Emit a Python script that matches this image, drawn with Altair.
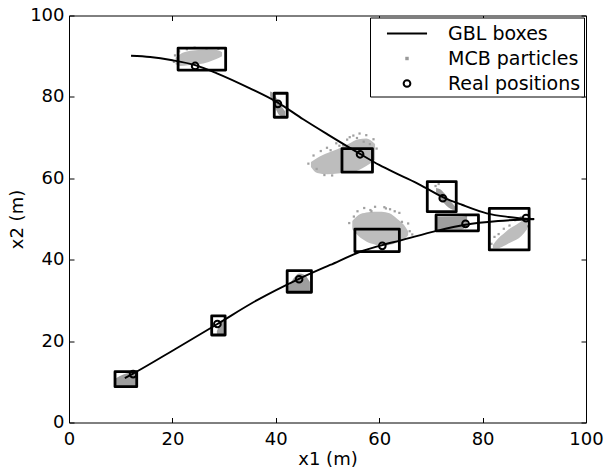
import altair as alt
import pandas as pd

FONT = "DejaVu Sans"

# ---- trajectories (x1, x2) ----
upper_x = [12.0, 15.7, 20.0, 24.4, 28.6, 35.0, 40.4, 45.3, 50.0, 56.3, 60.0, 64.0, 67.9, 72.3, 76.0, 80.8, 85.0, 89.9]
upper_y = [90.1, 89.8, 89.0, 87.8, 85.8, 82.1, 78.6, 74.5, 70.8, 66.0, 63.3, 60.8, 58.4, 55.4, 53.5, 51.4, 50.5, 49.9]
lower_x = [10.8, 12.4, 20.5, 28.7, 36.3, 44.5, 50.5, 56.9, 60.6, 64.0, 71.1, 76.7, 83.0, 90.0]
lower_y = [10.9, 12.0, 18.0, 24.2, 30.0, 35.3, 38.7, 42.2, 43.6, 44.7, 47.1, 48.6, 49.5, 50.0]

# ---- real positions ----
real_x = [24.4, 40.4, 56.3, 72.3, 88.4, 12.4, 28.7, 44.5, 60.6, 76.7]
real_y = [87.6, 78.3, 65.9, 55.1, 50.2, 11.9, 24.2, 35.2, 43.4, 48.8]

# ---- GBL boxes ----
box_x1 = [21.1, 39.7, 52.8, 69.3, 71.0, 81.3, 55.3, 8.9, 27.6, 42.2]
box_x2 = [30.3, 42.2, 58.7, 74.9, 79.2, 89.0, 63.9, 13.1, 30.2, 46.9]
box_y1 = [86.6, 75.0, 61.5, 51.8, 47.1, 42.4, 42.0, 8.8, 21.5, 32.0]
box_y2 = [92.0, 80.9, 67.3, 59.2, 51.0, 52.6, 47.5, 12.5, 26.2, 37.3]

# ---- MCB particle clouds: (x1, x2 low, x2 high) ----
cloud1 = [(20.6, 88.0, 89.6), (21.5, 87.6, 90.5), (23.0, 87.8, 91.2), (25.0, 88.0, 91.5), (27.0, 88.6, 91.6), (28.5, 89.3, 91.5), (29.6, 90.0, 91.0)]
cloud2 = [(38.9, 80.2, 81.3), (39.5, 78.5, 81.0), (40.0, 77.0, 80.0), (40.6, 75.6, 78.8), (41.2, 75.2, 77.5), (41.8, 75.1, 76.5)]
cloud3 = [(46.8, 62.8, 64.0), (48.0, 61.3, 65.0), (50.0, 61.0, 66.2), (52.0, 61.2, 67.2), (54.0, 61.4, 68.4), (56.0, 62.0, 69.6), (57.5, 63.0, 69.8), (59.2, 64.5, 68.4)]
cloud4 = [(71.0, 56.5, 57.6), (71.8, 55.0, 57.3), (72.6, 53.8, 56.3), (73.4, 52.8, 55.0), (74.2, 52.3, 53.8), (74.8, 52.2, 52.8)]
cloud5 = [(71.1, 47.4, 50.5), (76.0, 47.4, 50.6), (77.0, 48.5, 50.8)]
cloud6 = [(82.0, 42.8, 43.6), (83.0, 42.8, 45.2), (84.0, 43.3, 46.3), (85.0, 44.0, 47.4), (86.0, 44.6, 48.2), (87.0, 45.3, 49.0), (88.0, 46.5, 49.8), (88.6, 47.5, 50.0)]
cloud7 = [(54.8, 47.5, 49.5), (56.0, 45.8, 51.0), (57.5, 44.5, 51.6), (59.0, 43.8, 51.8), (60.5, 43.3, 51.8), (62.0, 43.6, 51.4), (63.5, 44.2, 50.0), (64.8, 45.0, 48.5), (65.6, 46.0, 47.0)]
cloud8 = [(9.0, 8.9, 10.8), (10.5, 8.9, 11.8), (12.0, 8.9, 12.3), (13.0, 8.9, 12.4)]
cloud9 = [(28.6, 21.6, 22.5), (29.2, 21.6, 24.0), (30.0, 21.6, 25.0)]
cloud10 = [(42.5, 32.1, 33.5), (43.5, 32.1, 35.5), (44.5, 32.1, 36.6), (45.5, 32.1, 36.3), (46.6, 32.1, 34.5)]

# scattered particles around and inside the clouds
scatter_x = [46.3, 47.3, 47.9, 48.7, 49.4, 49.9, 50.6, 51.7, 52.3, 53.8, 54.3, 55.7, 56.2, 57.5, 58.9, 59.5, 58.2, 50.9, 53.0, 55.0, 57.0,
             54.2, 55.1, 55.8, 57.1, 58.3, 59.2, 61.3, 62.1, 63.9, 64.4, 65.6, 65.9, 66.4, 61.0, 58.5, 63.0,
             81.7, 82.3, 83.1, 84.1, 85.2, 86.3, 87.4, 88.8, 86.8,
             20.3, 20.5, 21.3, 22.8, 24.3, 26.6, 28.9, 70.9, 71.5]
scatter_y = [63.6, 65.6, 62.3, 66.7, 60.8, 67.5, 66.9, 68.6, 68.0, 69.5, 70.1, 69.9, 71.0, 70.6, 69.6, 67.3, 68.4, 60.7, 68.1, 70.5, 69.0,
             49.0, 50.6, 51.9, 52.7, 52.2, 53.0, 52.6, 52.4, 51.5, 49.3, 48.9, 47.0, 46.2, 52.9, 51.9, 51.9,
             43.9, 45.6, 46.3, 47.6, 48.4, 49.7, 50.4, 48.2, 50.0,
             88.6, 90.2, 91.2, 91.7, 92.1, 91.9, 91.8, 58.1, 58.6]

ticks = [0, 20, 40, 60, 80, 100]
series_names = ["GBL boxes", "MCB particles", "Real positions"]

# ---- build tables ----
tracks = pd.DataFrame(
    [{"track": "upper", "x": a, "y": b} for a, b in zip(upper_x, upper_y)]
    + [{"track": "lower", "x": a, "y": b} for a, b in zip(lower_x, lower_y)]
)
real = pd.DataFrame({"x": real_x, "y": real_y, "series": "Real positions"})
boxes = pd.DataFrame({"x1": box_x1, "x2": box_x2, "y1": box_y1, "y2": box_y2})


def band_table(clouds):
    rows = []
    for name, pts in clouds.items():
        for x, lo, hi in pts:
            rows.append({"cloud": name, "x": x, "lo": lo, "hi": hi})
    return pd.DataFrame(rows)


sparse = band_table({"c1": cloud1, "c3": cloud3, "c6": cloud6, "c7": cloud7})
dense = band_table({"c2": cloud2, "c4": cloud4, "c5": cloud5, "c8": cloud8, "c9": cloud9, "c10": cloud10})
scatter = pd.DataFrame({"x": scatter_x, "y": scatter_y})

xs = alt.Scale(domain=[0, 100], nice=False, zero=False)
ys = alt.Scale(domain=[0, 100], nice=False, zero=False)

x_bottom = alt.Axis(orient="bottom", values=ticks, offset=-5, tickSize=5, domain=False, grid=False,
                    labelPadding=8, labelFlush=False, labelOverlap=False, title="x1 (m)", titlePadding=2)
x_top = alt.Axis(orient="top", values=ticks, offset=-5, tickSize=5, domain=False, grid=False,
                 labels=False, title=None)
y_left = alt.Axis(orient="left", values=ticks, offset=-5, tickSize=5, domain=False, grid=False,
                  labelPadding=5, labelFlush=False, labelOverlap=False, title="x2 (m)", titlePadding=3)
y_right = alt.Axis(orient="right", values=ticks, offset=-5, tickSize=5, domain=False, grid=False,
                   labels=False, title=None)

sparse_layer = alt.Chart(sparse).mark_area(color="#bdbdbd", interpolate="monotone").encode(
    x=alt.X("x:Q", scale=xs, axis=x_top),
    y=alt.Y("lo:Q", scale=ys, axis=y_right),
    y2="hi:Q",
    detail="cloud:N",
)
dense_layer = alt.Chart(dense).mark_area(color="#9e9e9e", interpolate="monotone").encode(
    x=alt.X("x:Q", scale=xs, axis=None),
    y=alt.Y("lo:Q", scale=ys, axis=None),
    y2="hi:Q",
    detail="cloud:N",
)
scatter_layer = alt.Chart(scatter).mark_square(size=5, color="#a0a0a0", opacity=1).encode(
    x=alt.X("x:Q", scale=xs, axis=None),
    y=alt.Y("y:Q", scale=ys, axis=None),
)
box_layer = alt.Chart(boxes).mark_rect(fillOpacity=0, stroke="black", strokeWidth=2.8, strokeJoin="round").encode(
    x=alt.X("x1:Q", scale=xs, axis=None),
    x2="x2:Q",
    y=alt.Y("y1:Q", scale=ys, axis=None),
    y2="y2:Q",
)
track_layer = alt.Chart(tracks).mark_line(color="black", strokeWidth=1.9, interpolate="monotone").encode(
    x=alt.X("x:Q", scale=xs, axis=x_bottom),
    y=alt.Y("y:Q", scale=ys, axis=y_left),
    detail="track:N",
)

line_path = "M-1.67,0L1.67,0"
dot_path = "M-0.06,-0.06L0.06,-0.06L0.06,0.06L-0.06,0.06Z"
circle_path = "M0.28,0A0.28,0.28,0,1,1,-0.28,0A0.28,0.28,0,1,1,0.28,0Z"

legend = alt.Legend(title=None, orient="top-right", offset=2, padding=3, strokeColor="black",
                    fillColor="white", labelFont=FONT, labelFontSize=19, labelColor="black",
                    symbolSize=576, symbolStrokeWidth=2, symbolOffset=21, labelOffset=28, rowPadding=2)

real_layer = alt.Chart(real).mark_point(filled=False, strokeWidth=2, size=576, opacity=1).encode(
    x=alt.X("x:Q", scale=xs, axis=None),
    y=alt.Y("y:Q", scale=ys, axis=None),
    shape=alt.Shape("series:N", scale=alt.Scale(domain=series_names, range=[line_path, dot_path, circle_path]), legend=legend),
    stroke=alt.Stroke("series:N", scale=alt.Scale(domain=series_names, range=["black", "#999999", "black"]), legend=legend),
)

chart = alt.layer(
    sparse_layer, dense_layer, scatter_layer, box_layer, track_layer, real_layer
).resolve_axis(
    x="independent", y="independent"
).properties(
    width=517, height=407,
    autosize=alt.AutoSizeParams(type="none"),
    padding={"left": 69, "top": 15.5, "right": 19, "bottom": 48.5},
    background="white",
).configure_view(
    stroke="black", strokeWidth=1
).configure_axis(
    labelFont=FONT, labelFontSize=18, labelColor="black", tickColor="black", tickWidth=1,
    titleFont=FONT, titleFontSize=18, titleFontWeight="normal", titleColor="black",
)

chart.save("out.html", embed_options={"renderer": "svg", "actions": False})
